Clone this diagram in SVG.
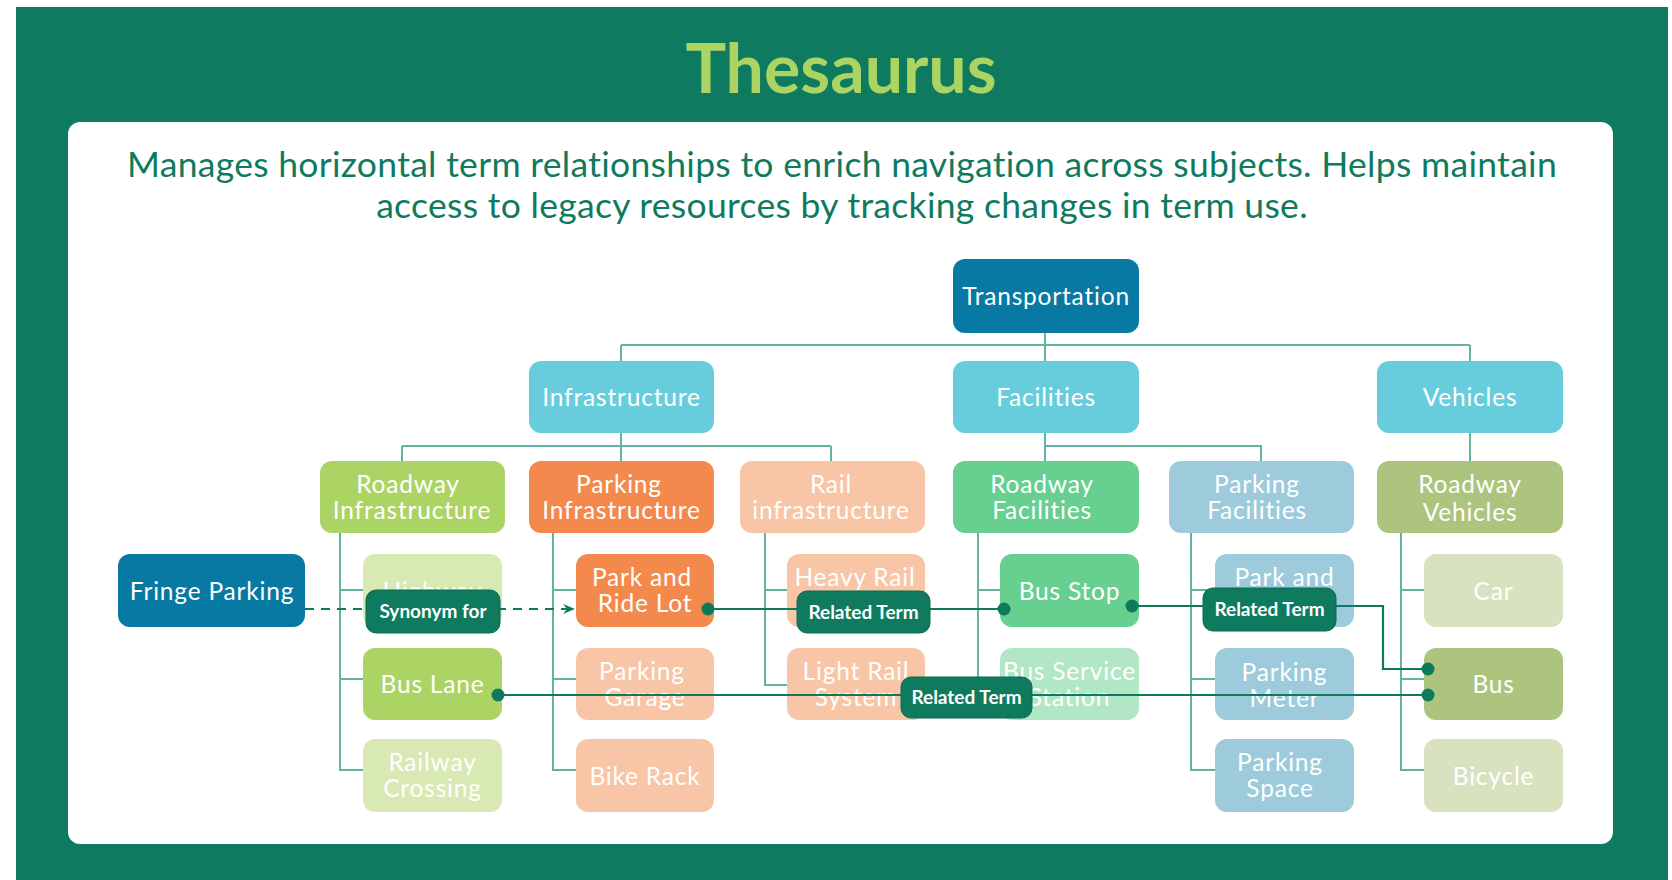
<svg xmlns="http://www.w3.org/2000/svg" width="1672" height="880" viewBox="0 0 1672 880">
<defs>
<style>
.t{font-family:Lato,"Open Sans","Liberation Sans",sans-serif;fill:#fff;font-size:24.5px;letter-spacing:0.8px;text-anchor:middle}
.lbl{font-family:Lato,"Open Sans","Liberation Sans",sans-serif;fill:#fff;font-size:19px;font-weight:700;text-anchor:middle}
.tree{fill:none;stroke:#62b3a1;stroke-width:2}
.rel{fill:none;stroke:#0d7a5e;stroke-width:2.2}
.dot{fill:#0d7a5e}
.lb{fill:#0e7a5e;stroke:#0b6b52;stroke-width:1}
</style>
<marker id="arr" viewBox="0 0 12 12" refX="11" refY="6" markerWidth="12" markerHeight="12" markerUnits="userSpaceOnUse" orient="auto">
<path d="M0,1 L12,6 L0,11 L4,6 z" fill="#0d7a5e"/>
</marker>
</defs>
<rect x="0" y="0" width="1672" height="880" fill="#ffffff"/>
<rect x="16" y="7" width="1652" height="873" fill="#0e7a5f"/>
<rect x="68" y="122" width="1545" height="722" rx="12" fill="#ffffff"/>
<text x="841" y="93" font-family="Lato,'Open Sans','Liberation Sans',sans-serif" font-size="68" font-weight="700" fill="#acd463" text-anchor="middle">Thesaurus</text>
<text font-family="Lato,'Open Sans','Liberation Sans',sans-serif" font-size="35.5" letter-spacing="0.3" fill="#0f7a5e" text-anchor="middle"><tspan x="842" y="177">Manages horizontal term relationships to enrich navigation across subjects. Helps maintain</tspan><tspan x="842" y="218">access to legacy resources by tracking changes in term use.</tspan></text>

<g id="tree-connectors">
<path class="tree" d="M1045,333 V345 M621,345 H1470 M621,345 V361 M1045,345 V361 M1470,345 V361"/>
<path class="tree" d="M621,433 V446 M402,446 H831 M402,446 V461 M621,446 V461 M831,446 V461"/>
<path class="tree" d="M1045,433 V446 H1261 V461 M1045,446 V461"/>
<path class="tree" d="M1470,433 V461"/>
<path class="tree" d="M340,533 V770 H363 M340,590 H363 M340,679 H363"/>
<path class="tree" d="M553,533 V770 H576 M553,590 H576 M553,679 H576"/>
<path class="tree" d="M765,533 V685 H787 M765,590 H787"/>
<path class="tree" d="M978,533 V679 H1000 M978,590 H1000"/>
<path class="tree" d="M1191,533 V770 H1215 M1191,590 H1215 M1191,679 H1215"/>
<path class="tree" d="M1401,533 V770 H1424 M1401,590 H1424 M1401,679 H1424"/>
</g>

<g id="n-transportation"><rect x="953" y="259" width="186" height="74" rx="12" fill="#0779a2"/><text class="t" x="1046" y="305">Transportation</text></g>
<g id="n-infrastructure"><rect x="529" y="361" width="185" height="72" rx="12" fill="#67cddc"/><text class="t" x="621.5" y="406">Infrastructure</text></g>
<g id="n-facilities"><rect x="953" y="361" width="186" height="72" rx="12" fill="#67cddc"/><text class="t" x="1046" y="406">Facilities</text></g>
<g id="n-vehicles"><rect x="1377" y="361" width="186" height="72" rx="12" fill="#67cddc"/><text class="t" x="1470" y="406">Vehicles</text></g>

<g id="n-roadway-infrastructure"><rect x="320" y="461" width="185" height="72" rx="12" fill="#acd465"/><text class="t"><tspan x="408" y="492.5">Roadway</tspan><tspan x="412" y="518.5">Infrastructure</tspan></text></g>
<g id="n-parking-infrastructure"><rect x="529" y="461" width="185" height="72" rx="12" fill="#f4894d"/><text class="t"><tspan x="619" y="492.5">Parking</tspan><tspan x="621.5" y="518.5">Infrastructure</tspan></text></g>
<g id="n-rail-infrastructure"><rect x="740" y="461" width="185" height="72" rx="12" fill="#f8c5a7"/><text class="t"><tspan x="831" y="492.5">Rail</tspan><tspan x="831" y="518.5">infrastructure</tspan></text></g>
<g id="n-roadway-facilities"><rect x="953" y="461" width="186" height="72" rx="12" fill="#67cf8f"/><text class="t"><tspan x="1042" y="492.5">Roadway</tspan><tspan x="1042" y="518.5">Facilities</tspan></text></g>
<g id="n-parking-facilities"><rect x="1169" y="461" width="185" height="72" rx="12" fill="#9dcbdb"/><text class="t"><tspan x="1257" y="492.5">Parking</tspan><tspan x="1257" y="518.5">Facilities</tspan></text></g>
<g id="n-roadway-vehicles"><rect x="1377" y="461" width="186" height="72" rx="12" fill="#adc47e"/><text class="t"><tspan x="1470" y="492.5">Roadway</tspan><tspan x="1470" y="521">Vehicles</tspan></text></g>

<g id="n-fringe-parking"><rect x="118" y="554" width="187" height="73" rx="12" fill="#0779a2"/><text class="t" x="212" y="599.5">Fringe Parking</text></g>

<g id="n-highway"><rect x="363" y="554" width="139" height="73" rx="12" fill="#d8e9b3"/><text class="t" x="432.5" y="599.5">Highway</text></g>
<g id="n-bus-lane"><rect x="363" y="648" width="139" height="72" rx="12" fill="#acd465"/><text class="t" x="432.5" y="693">Bus Lane</text></g>
<g id="n-railway-crossing"><rect x="363" y="739" width="139" height="73" rx="12" fill="#d8e9b3"/><text class="t"><tspan x="432.5" y="771">Railway</tspan><tspan x="432.5" y="797">Crossing</tspan></text></g>

<g id="n-park-and-ride-lot"><rect x="576" y="554" width="138" height="73" rx="12" fill="#f4894d"/><text class="t"><tspan x="642" y="586">Park and</tspan><tspan x="645" y="612">Ride Lot</tspan></text></g>
<g id="n-parking-garage"><rect x="576" y="648" width="138" height="72" rx="12" fill="#f8c5a7"/><text class="t"><tspan x="642" y="679.5">Parking</tspan><tspan x="645" y="705.5">Garage</tspan></text></g>
<g id="n-bike-rack"><rect x="576" y="739" width="138" height="73" rx="12" fill="#f8c5a7"/><text class="t" x="645" y="784.5">Bike Rack</text></g>

<g id="n-heavy-rail"><rect x="787" y="554" width="138" height="73" rx="12" fill="#f8c5a7"/><text class="t" x="855" y="586">Heavy Rail</text></g>
<g id="n-light-rail-system"><rect x="787" y="648" width="138" height="72" rx="12" fill="#f8c5a7"/><text class="t"><tspan x="856" y="679.5">Light Rail</tspan><tspan x="856" y="705.5">System</tspan></text></g>

<g id="n-bus-stop"><rect x="1000" y="554" width="139" height="73" rx="12" fill="#67cf8f"/><text class="t" x="1069.5" y="599.5">Bus Stop</text></g>
<g id="n-bus-service-station"><rect x="1000" y="648" width="139" height="72" rx="12" fill="#b2e7c5"/><text class="t"><tspan x="1069.5" y="679.5">Bus Service</tspan><tspan x="1069.5" y="705.5">Station</tspan></text></g>

<g id="n-park-and-ride"><rect x="1215" y="554" width="139" height="73" rx="12" fill="#9dcbdb"/><text class="t" x="1284.5" y="586">Park and</text></g>
<g id="n-parking-meter"><rect x="1215" y="648" width="139" height="72" rx="12" fill="#9dcbdb"/><text class="t"><tspan x="1284.5" y="681">Parking</tspan><tspan x="1284.5" y="707">Meter</tspan></text></g>
<g id="n-parking-space"><rect x="1215" y="739" width="139" height="73" rx="12" fill="#9dcbdb"/><text class="t"><tspan x="1280" y="771">Parking</tspan><tspan x="1280" y="797">Space</tspan></text></g>

<g id="n-car"><rect x="1424" y="554" width="139" height="73" rx="12" fill="#d9e2c0"/><text class="t" x="1493.5" y="599.5">Car</text></g>
<g id="n-bus"><rect x="1424" y="648" width="139" height="72" rx="12" fill="#adc47e"/><text class="t" x="1493.5" y="693">Bus</text></g>
<g id="n-bicycle"><rect x="1424" y="739" width="139" height="73" rx="12" fill="#d9e2c0"/><text class="t" x="1493.5" y="784.5">Bicycle</text></g>

<g id="relations">
<path class="rel" d="M305,609 H574" stroke-dasharray="9,7" marker-end="url(#arr)"/>
<path class="rel" d="M708,609 H1004"/>
<path class="rel" d="M498,695 H1428"/>
<path class="rel" d="M1132,606 H1383 V669 H1428"/>
<circle class="dot" cx="708" cy="609" r="6.5"/>
<circle class="dot" cx="1004" cy="609" r="6.5"/>
<circle class="dot" cx="1132" cy="606" r="6.5"/>
<circle class="dot" cx="498" cy="695" r="6.5"/>
<circle class="dot" cx="1428" cy="695" r="6.5"/>
<circle class="dot" cx="1428" cy="669" r="6.5"/>
<rect class="lb" x="366" y="590" width="134" height="43" rx="10"/>
<text class="lbl" x="433" y="618">Synonym for</text>
<rect class="lb" x="797" y="591" width="133" height="42" rx="10"/>
<text class="lbl" x="863.5" y="618.5">Related Term</text>
<rect class="lb" x="901" y="677" width="131" height="41" rx="10"/>
<text class="lbl" x="966.5" y="704">Related Term</text>
<rect class="lb" x="1203" y="588" width="133" height="43" rx="10"/>
<text class="lbl" x="1269.5" y="615.5">Related Term</text>
</g>
</svg>
